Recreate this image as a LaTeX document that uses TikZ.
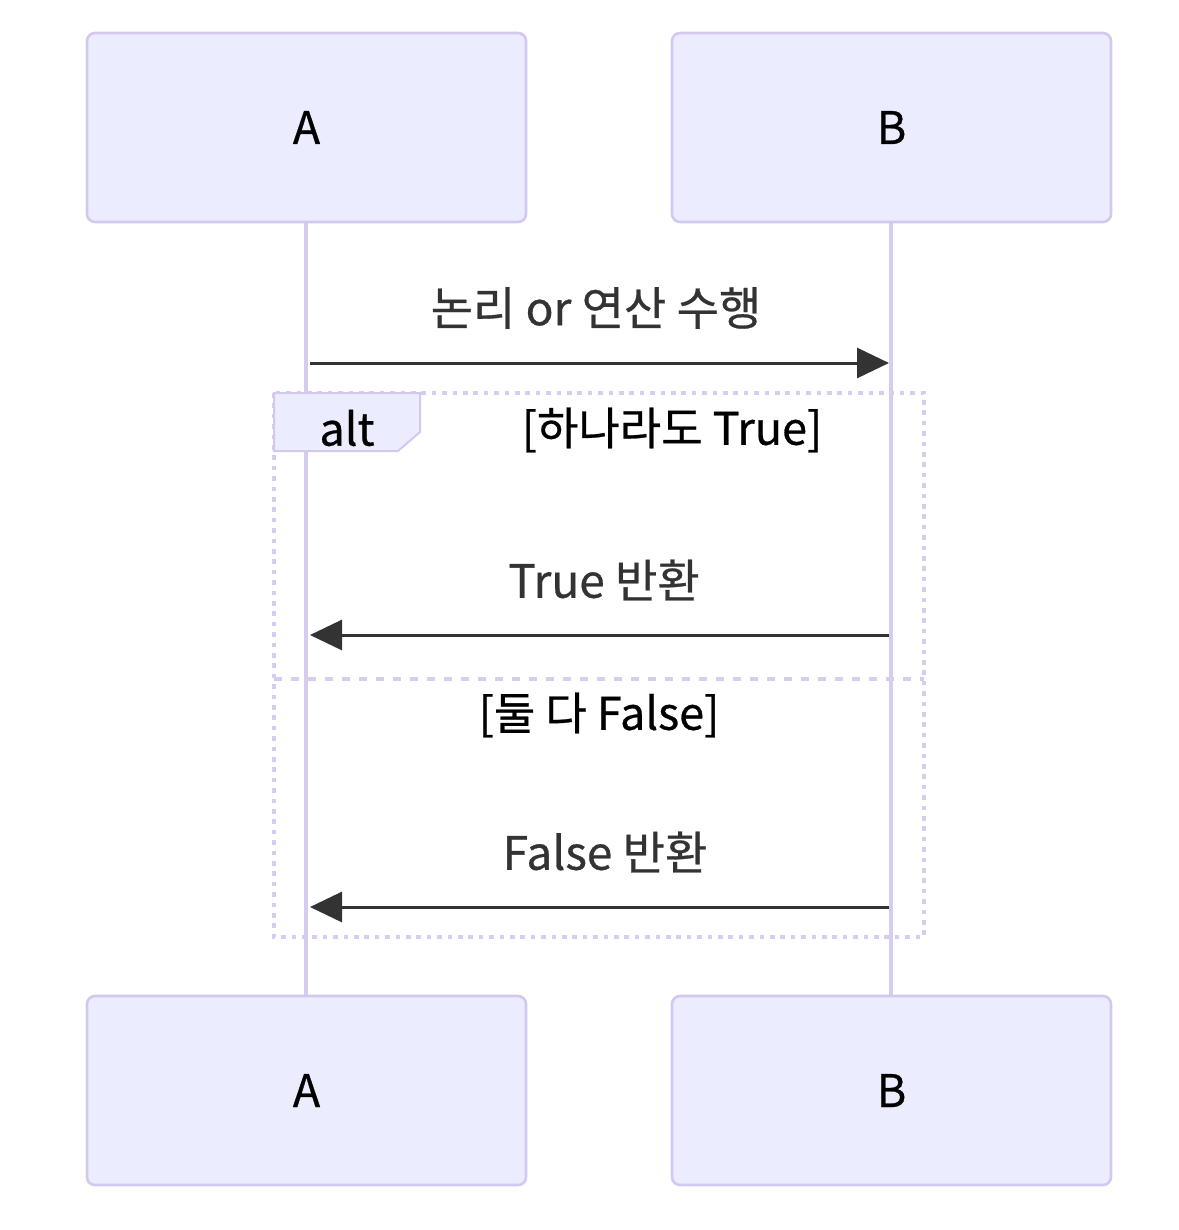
\documentclass[tikz,border=0pt]{standalone}
\usepackage{fontspec}
\setmainfont{Noto Sans CJK KR}[FakeBold=0.6,AutoFakeBold=0.6]
\newfontfamily\diagfont{Noto Sans CJK KR}[FakeBold=0.6]
\usepackage{xcolor}
\usepackage{tikz}
\usetikzlibrary{arrows.meta,positioning,calc}
\definecolor{actorFill}{HTML}{ECECFF}
\definecolor{actorLine}{HTML}{D3C9F0}
\definecolor{lifeLine}{HTML}{D5CCF0}
\definecolor{msgInk}{HTML}{333333}
\tikzset{
  actorbox/.style={draw=actorLine, line width=1.3pt, rounded corners=4pt, fill=actorFill,
                   minimum width=219.5pt, minimum height=94.5pt, inner sep=0pt,
                   font=\fontsize{22.5}{26}\selectfont\bfseries\color{black}},
  lifeline/.style={draw=lifeLine, line width=2pt},
  msg/.style={-{Triangle[length=16pt,width=15pt]}, line width=1.5pt, draw=msgInk},
  msgtext/.style={font=\fontsize{23}{27}\selectfont\bfseries\color{msgInk}, inner sep=0pt},
  altframe/.style={draw=lifeLine, line width=2.3pt, dash pattern=on 2.3pt off 2.9pt},
  altsplit/.style={draw=lifeLine, line width=2.3pt, dash pattern=on 4pt off 4.5pt},
  altlabel/.style={draw=actorLine, line width=1pt, fill=actorFill},
  condtext/.style={font=\fontsize{22.5}{26}\selectfont\bfseries\color{black}, inner sep=0pt}
}
\begin{document}
\begin{tikzpicture}[x=0.5pt,y=-0.5pt]
  \useasboundingbox (0,0) rectangle (1178,1230);
  % lifelines
  \coordinate (aL) at (306,222);
  \coordinate (bL) at (891,222);
  \draw[lifeline] (aL) -- (306,996);
  \draw[lifeline] (bL) -- (891,996);
  % participants
  \node[actorbox] (aTop) at (306.5,127.5) {A};
  \node[actorbox] (bTop) at (891.5,127.5) {B};
  \node[actorbox] (aBot) at (306.5,1090.5) {A};
  \node[actorbox] (bBot) at (891.5,1090.5) {B};
  % first message
  \coordinate (m1s) at (310,363);
  \coordinate (m1e) at (889,363);
  \node[msgtext] (m1t) at (596,308) {논리 or 연산 수행};
  \draw[msg] (m1s) -- (m1e);
  % alt block
  \draw[altframe] (274,393) rectangle (924,937);
  \draw[altsplit] (274,679) -- (924,679);
  \draw[altlabel] (274,393) -- (420,393) -- (420,432) -- (398,451) -- (274,451) -- cycle;
  \node[condtext] (altT) at (347,428) {alt};
  \node[condtext] (c1) at (672,430) {[하나라도 True]};
  \node[condtext] (c2) at (599,715) {[둘 다 False]};
  % replies
  \coordinate (r1s) at (889,635);
  \coordinate (r1e) at (310,635);
  \node[msgtext] (r1t) at (604,580) {True 반환};
  \draw[msg] (r1s) -- (r1e);
  \coordinate (r2s) at (889,907);
  \coordinate (r2e) at (310,907);
  \node[msgtext] (r2t) at (605,852) {False 반환};
  \draw[msg] (r2s) -- (r2e);
\end{tikzpicture}
\end{document}
